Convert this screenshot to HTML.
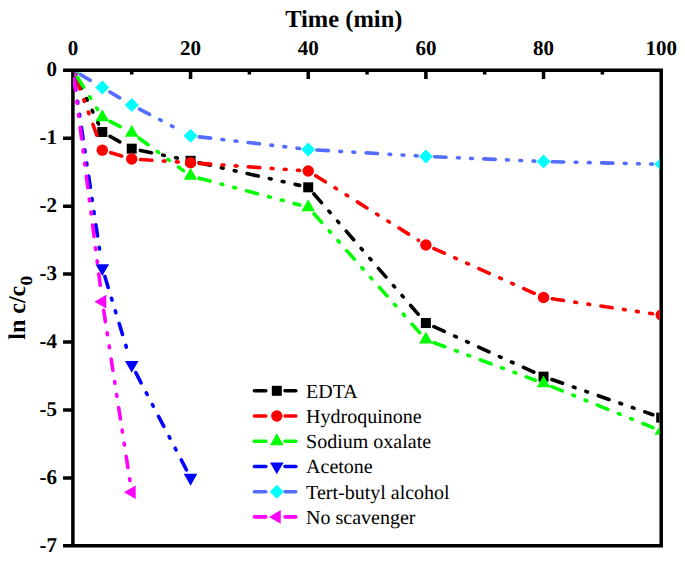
<!DOCTYPE html>
<html><head><meta charset="utf-8"><style>
html,body{margin:0;padding:0;background:#fff;}
svg{display:block;}
text{font-family:"Liberation Serif",serif;text-rendering:geometricPrecision;}
</style></head><body>
<svg width="685" height="570" viewBox="0 0 685 570">
<defs><clipPath id="pl"><rect x="72.90" y="70.30" width="588.30" height="475.50"/></clipPath><clipPath id="pa"><rect x="74.65" y="72.05" width="584.80" height="472.00"/></clipPath></defs>

<path d="M72.90 70.30H661.20V545.80H72.90ZM131.73 70.30V74.60M190.56 70.30V79.00M249.39 70.30V74.60M308.22 70.30V79.00M367.05 70.30V74.60M425.88 70.30V79.00M484.71 70.30V74.60M543.54 70.30V79.00M602.37 70.30V74.60M63.05 70.30H72.90M63.05 138.23H72.90M63.05 206.16H72.90M63.05 274.09H72.90M63.05 342.02H72.90M63.05 409.95H72.90M63.05 477.88H72.90M63.05 545.80H72.90" stroke="#000" stroke-width="3.5" fill="none"/>
<g clip-path="url(#pl)" fill="none" stroke-width="3.6" stroke-linecap="round" stroke-dasharray="11.4 11.4 1.8 11.4 1.8 11.4">
<line x1="76.67" y1="77.95" x2="98.54" y2="124.00" stroke="#000000"/>
<line x1="109.97" y1="136.30" x2="124.08" y2="144.32" stroke="#000000"/>
<line x1="140.35" y1="150.44" x2="181.94" y2="159.04" stroke="#000000"/>
<line x1="199.15" y1="162.76" x2="299.63" y2="185.38" stroke="#000000"/>
<line x1="313.98" y1="193.96" x2="420.12" y2="316.39" stroke="#000000"/>
<line x1="433.89" y1="326.69" x2="535.53" y2="372.99" stroke="#000000"/>
<line x1="551.85" y1="379.53" x2="652.89" y2="414.70" stroke="#000000"/>
</g>
<g clip-path="url(#pa)">
<rect x="67.90" y="65.00" width="10.00" height="10.00" fill="#000000"/>
<rect x="97.31" y="126.95" width="10.00" height="10.00" fill="#000000"/>
<rect x="126.73" y="143.66" width="10.00" height="10.00" fill="#000000"/>
<rect x="185.56" y="155.82" width="10.00" height="10.00" fill="#000000"/>
<rect x="303.22" y="182.32" width="10.00" height="10.00" fill="#000000"/>
<rect x="420.88" y="318.04" width="10.00" height="10.00" fill="#000000"/>
<rect x="538.54" y="371.64" width="10.00" height="10.00" fill="#000000"/>
<rect x="656.20" y="412.60" width="10.00" height="10.00" fill="#000000"/>
</g>
<g clip-path="url(#pl)" fill="none" stroke-width="3.6" stroke-linecap="round" stroke-dasharray="11.4 11.4 1.8 11.4 1.8 11.4">
<line x1="75.93" y1="78.26" x2="99.28" y2="141.90" stroke="#ff0000"/>
<line x1="110.74" y1="152.69" x2="123.30" y2="156.46" stroke="#ff0000"/>
<line x1="140.51" y1="159.55" x2="181.78" y2="162.17" stroke="#ff0000"/>
<line x1="199.34" y1="163.34" x2="299.44" y2="170.39" stroke="#ff0000"/>
<line x1="315.67" y1="175.70" x2="418.43" y2="240.30" stroke="#ff0000"/>
<line x1="433.92" y1="248.57" x2="535.50" y2="293.91" stroke="#ff0000"/>
<line x1="552.24" y1="298.79" x2="652.50" y2="313.73" stroke="#ff0000"/>
</g>
<g clip-path="url(#pa)">
<circle cx="72.90" cy="70.00" r="5.7" fill="#ff0000"/>
<circle cx="102.31" cy="150.16" r="5.7" fill="#ff0000"/>
<circle cx="131.73" cy="158.99" r="5.7" fill="#ff0000"/>
<circle cx="190.56" cy="162.72" r="5.7" fill="#ff0000"/>
<circle cx="308.22" cy="171.01" r="5.7" fill="#ff0000"/>
<circle cx="425.88" cy="244.99" r="5.7" fill="#ff0000"/>
<circle cx="543.54" cy="297.50" r="5.7" fill="#ff0000"/>
<circle cx="661.20" cy="315.02" r="5.7" fill="#ff0000"/>
</g>
<g clip-path="url(#pl)" fill="none" stroke-width="3.6" stroke-linecap="round" stroke-dasharray="11.4 11.4 1.8 11.4 1.8 11.4">
<line x1="77.55" y1="77.47" x2="97.66" y2="109.74" stroke="#00ff00"/>
<line x1="110.09" y1="121.34" x2="123.96" y2="128.71" stroke="#00ff00"/>
<line x1="138.83" y1="138.03" x2="183.46" y2="170.70" stroke="#00ff00"/>
<line x1="199.06" y1="178.17" x2="299.72" y2="204.96" stroke="#00ff00"/>
<line x1="314.06" y1="213.80" x2="420.04" y2="333.10" stroke="#00ff00"/>
<line x1="434.13" y1="342.74" x2="535.29" y2="380.23" stroke="#00ff00"/>
<line x1="551.70" y1="386.59" x2="653.04" y2="427.61" stroke="#00ff00"/>
</g>
<g clip-path="url(#pa)">
<path d="M72.90 62.13L79.70 73.93L66.10 73.93Z" fill="#00ff00"/>
<path d="M102.31 109.34L109.11 121.14L95.52 121.14Z" fill="#00ff00"/>
<path d="M131.73 124.97L138.53 136.77L124.93 136.77Z" fill="#00ff00"/>
<path d="M190.56 168.04L197.36 179.84L183.76 179.84Z" fill="#00ff00"/>
<path d="M308.22 199.35L315.02 211.15L301.42 211.15Z" fill="#00ff00"/>
<path d="M425.88 331.82L432.68 343.62L419.08 343.62Z" fill="#00ff00"/>
<path d="M543.54 375.43L550.34 387.23L536.74 387.23Z" fill="#00ff00"/>
<path d="M661.20 423.05L668.00 434.85L654.40 434.85Z" fill="#00ff00"/>
</g>
<g clip-path="url(#pl)" fill="none" stroke-width="3.6" stroke-linecap="round" stroke-dasharray="11.4 11.4 1.8 11.4 1.8 11.4">
<line x1="74.19" y1="78.70" x2="101.02" y2="259.38" stroke="#0000ff"/>
<line x1="104.87" y1="276.50" x2="129.17" y2="356.46" stroke="#0000ff"/>
<line x1="135.80" y1="372.69" x2="186.49" y2="469.98" stroke="#0000ff"/>
</g>
<g clip-path="url(#pa)">
<path d="M66.10 66.07L79.70 66.07L72.90 77.87Z" fill="#0000ff"/>
<path d="M95.52 264.15L109.11 264.15L102.31 275.95Z" fill="#0000ff"/>
<path d="M124.93 360.95L138.53 360.95L131.73 372.75Z" fill="#0000ff"/>
<path d="M183.76 473.85L197.36 473.85L190.56 485.65Z" fill="#0000ff"/>
</g>
<g clip-path="url(#pl)" fill="none" stroke-width="3.6" stroke-linecap="round" stroke-dasharray="11.4 11.4 1.8 11.4 1.8 11.4">
<line x1="80.46" y1="74.50" x2="94.76" y2="83.02" stroke="#546cff"/>
<line x1="109.88" y1="92.02" x2="124.16" y2="100.49" stroke="#546cff"/>
<line x1="139.52" y1="109.07" x2="182.77" y2="131.74" stroke="#546cff"/>
<line x1="199.30" y1="136.84" x2="299.48" y2="148.46" stroke="#546cff"/>
<line x1="317.00" y1="150.00" x2="417.10" y2="155.89" stroke="#546cff"/>
<line x1="434.67" y1="156.79" x2="534.75" y2="161.12" stroke="#546cff"/>
<line x1="552.34" y1="161.71" x2="652.40" y2="164.08" stroke="#546cff"/>
</g>
<g clip-path="url(#pa)">
<path d="M72.90 63.00L79.90 70.00L72.90 77.00L65.90 70.00Z" fill="#00ffff"/>
<path d="M102.31 80.53L109.31 87.53L102.31 94.53L95.31 87.53Z" fill="#00ffff"/>
<path d="M131.73 97.98L138.73 104.98L131.73 111.98L124.73 104.98Z" fill="#00ffff"/>
<path d="M190.56 128.82L197.56 135.82L190.56 142.82L183.56 135.82Z" fill="#00ffff"/>
<path d="M308.22 142.48L315.22 149.48L308.22 156.48L301.22 149.48Z" fill="#00ffff"/>
<path d="M425.88 149.41L432.88 156.41L425.88 163.41L418.88 156.41Z" fill="#00ffff"/>
<path d="M543.54 154.50L550.54 161.50L543.54 168.50L536.54 161.50Z" fill="#00ffff"/>
<path d="M661.20 157.29L668.20 164.29L661.20 171.29L654.20 164.29Z" fill="#00ffff"/>
</g>
<g clip-path="url(#pl)" fill="none" stroke-width="3.6" stroke-linecap="round" stroke-dasharray="11.4 11.4 1.8 11.4 1.8 11.4">
<line x1="74.01" y1="78.73" x2="101.21" y2="292.91" stroke="#ff00ff"/>
<line x1="103.66" y1="310.34" x2="130.39" y2="483.62" stroke="#ff00ff"/>
</g>
<g clip-path="url(#pa)">
<path d="M65.03 70.00L76.83 63.20L76.83 76.80Z" fill="#ff00ff"/>
<path d="M94.45 301.64L106.25 294.84L106.25 308.44Z" fill="#ff00ff"/>
<path d="M123.86 492.32L135.66 485.52L135.66 499.12Z" fill="#ff00ff"/>
</g>
<g font-size="21" font-weight="bold" fill="#000">
<text x="72.90" y="55.3" text-anchor="middle">0</text>
<text x="190.56" y="55.3" text-anchor="middle">20</text>
<text x="308.22" y="55.3" text-anchor="middle">40</text>
<text x="425.88" y="55.3" text-anchor="middle">60</text>
<text x="543.54" y="55.3" text-anchor="middle">80</text>
<text x="661.20" y="55.3" text-anchor="middle">100</text>
<text x="57" y="76.30" text-anchor="end">0</text>
<text x="57" y="144.23" text-anchor="end">-1</text>
<text x="57" y="212.16" text-anchor="end">-2</text>
<text x="57" y="280.09" text-anchor="end">-3</text>
<text x="57" y="348.02" text-anchor="end">-4</text>
<text x="57" y="415.95" text-anchor="end">-5</text>
<text x="57" y="483.88" text-anchor="end">-6</text>
<text x="57" y="551.81" text-anchor="end">-7</text>
</g>
<text x="343.8" y="26.6" text-anchor="middle" font-size="24.5" font-weight="bold">Time (min)</text>
<text transform="translate(24.7,307.9) rotate(-90)" text-anchor="middle" font-size="24" font-weight="bold">ln c/c<tspan font-size="17" dx="0.2" dy="6.8" textLength="9.6" lengthAdjust="spacingAndGlyphs">0</tspan></text>
<g stroke="#000000" stroke-width="3.6" stroke-linecap="round">
<line x1="254.40" y1="390.80" x2="265.80" y2="390.80"/>
<line x1="285.00" y1="390.80" x2="295.80" y2="390.80"/>
</g>
<rect x="271.80" y="385.80" width="10.00" height="10.00" fill="#000000"/>
<text x="306.1" y="397.80" font-size="20">EDTA</text>
<g stroke="#ff0000" stroke-width="3.6" stroke-linecap="round">
<line x1="254.40" y1="416.02" x2="265.80" y2="416.02"/>
<line x1="285.00" y1="416.02" x2="295.80" y2="416.02"/>
</g>
<circle cx="276.80" cy="416.02" r="5.7" fill="#ff0000"/>
<text x="306.1" y="423.02" font-size="20">Hydroquinone</text>
<g stroke="#00ff00" stroke-width="3.6" stroke-linecap="round">
<line x1="254.40" y1="441.24" x2="265.80" y2="441.24"/>
<line x1="285.00" y1="441.24" x2="295.80" y2="441.24"/>
</g>
<path d="M276.80 433.37L283.60 445.17L270.00 445.17Z" fill="#00ff00"/>
<text x="306.1" y="448.24" font-size="20">Sodium oxalate</text>
<g stroke="#0000ff" stroke-width="3.6" stroke-linecap="round">
<line x1="254.40" y1="466.46" x2="265.80" y2="466.46"/>
<line x1="285.00" y1="466.46" x2="295.80" y2="466.46"/>
</g>
<path d="M270.00 462.53L283.60 462.53L276.80 474.33Z" fill="#0000ff"/>
<text x="306.1" y="473.46" font-size="20">Acetone</text>
<g stroke="#546cff" stroke-width="3.6" stroke-linecap="round">
<line x1="254.40" y1="491.68" x2="265.80" y2="491.68"/>
<line x1="285.00" y1="491.68" x2="295.80" y2="491.68"/>
</g>
<path d="M276.80 484.68L283.80 491.68L276.80 498.68L269.80 491.68Z" fill="#00ffff"/>
<text x="306.1" y="498.68" font-size="20">Tert-butyl alcohol</text>
<g stroke="#ff00ff" stroke-width="3.6" stroke-linecap="round">
<line x1="254.40" y1="516.90" x2="265.80" y2="516.90"/>
<line x1="285.00" y1="516.90" x2="295.80" y2="516.90"/>
</g>
<path d="M268.93 516.90L280.73 510.10L280.73 523.70Z" fill="#ff00ff"/>
<text x="306.1" y="523.90" font-size="20">No scavenger</text>
</svg></body></html>
